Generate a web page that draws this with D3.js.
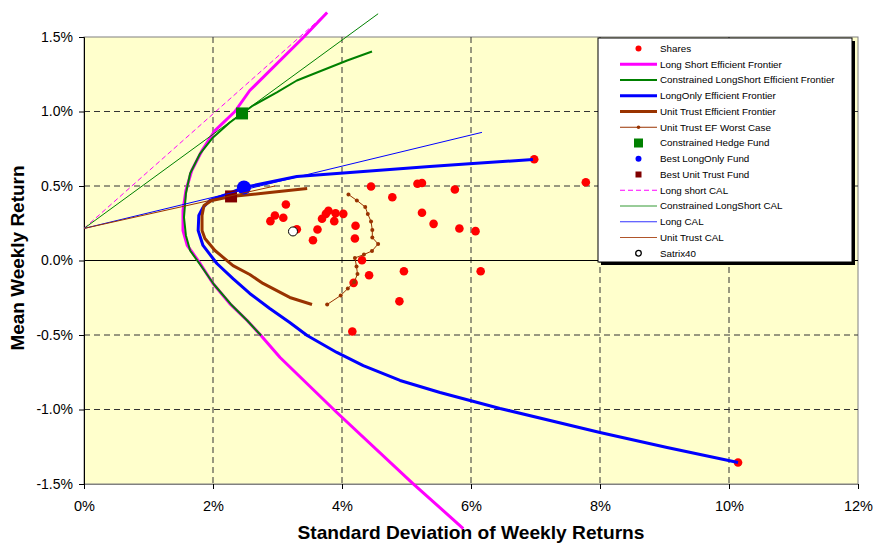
<!DOCTYPE html>
<html>
<head>
<meta charset="utf-8">
<script src="https://cdn.jsdelivr.net/npm/d3@7"></script>
<style>
  body { margin: 0; background: #fff; }
  svg text { font-family: "Liberation Sans", Arial, sans-serif; }
</style>
</head>
<body>
<div id="chart"></div>
<script>
// values in percent: [std dev, mean]
var shares = [
  [2.89, 0.264], [2.96, 0.302], [3.09, 0.287], [3.13, 0.376], [3.30, 0.21],
  [3.62, 0.208], [3.55, 0.136], [3.69, 0.28], [3.75, 0.313], [3.79, 0.334],
  [3.88, 0.264], [3.90, 0.317], [4.02, 0.313], [4.21, 0.233], [4.20, 0.148],
  [4.31, 0.002], [4.42, -0.099], [4.18, -0.150], [4.16, -0.477], [4.45, 0.497],
  [4.78, 0.425], [5.17, 0.515], [5.24, 0.52], [5.24, 0.32], [5.42, 0.246],
  [4.96, -0.072], [4.89, -0.274], [5.75, 0.477], [5.82, 0.215], [6.07, 0.197],
  [6.15, -0.072], [6.98, 0.68], [7.78, 0.525], [10.14, -1.356]
];

var longShortEF = [
  [3.77, 1.664], [3.40, 1.497], [2.57, 1.141], [2.34, 1.0], [2.03, 0.872],
  [1.83, 0.738], [1.67, 0.604], [1.58, 0.470], [1.535, 0.336], [1.535, 0.201],
  [1.60, 0.101], [1.69, 0.047], [1.80, -0.020], [2.0, -0.154], [2.26, -0.289],
  [2.53, -0.403], [2.73, -0.497], [3.04, -0.651], [3.92, -1.020], [5.10, -1.497],
  [5.88, -1.799]
];

var constrainedEF = [
  [4.465, 1.403], [4.08, 1.342], [3.30, 1.208], [2.99, 1.128], [2.62, 1.040],
  [2.45, 0.987], [2.26, 0.926], [2.0, 0.826], [1.80, 0.718], [1.645, 0.584],
  [1.58, 0.450], [1.55, 0.289], [1.58, 0.168], [1.645, 0.067], [1.80, -0.027],
  [2.015, -0.161], [2.28, -0.295], [2.53, -0.403], [2.745, -0.503]
];

var longOnlyEF = [
  [6.96, 0.678], [6.03, 0.651], [5.36, 0.631], [4.33, 0.597], [3.30, 0.564],
  [2.48, 0.490], [2.155, 0.436], [1.95, 0.403], [1.845, 0.356], [1.78, 0.302],
  [1.77, 0.201], [1.845, 0.101], [2.06, -0.020], [2.31, -0.121], [2.57, -0.221],
  [2.88, -0.322], [3.19, -0.416], [3.46, -0.503], [3.92, -0.617], [4.33, -0.705],
  [4.90, -0.805], [5.52, -0.886], [6.45, -0.993], [8.0, -1.154], [9.04, -1.255],
  [10.14, -1.356]
];

var unitTrustEF = [
  [3.46, 0.483], [2.88, 0.456], [2.28, 0.430], [1.98, 0.403], [1.86, 0.369],
  [1.83, 0.302], [1.83, 0.201], [1.875, 0.148], [2.03, 0.067], [2.31, -0.034],
  [2.57, -0.094], [2.775, -0.154], [3.19, -0.248], [3.535, -0.295]
];

var unitTrustWorst = [
  [4.10, 0.443], [4.23, 0.403], [4.36, 0.359], [4.40, 0.312], [4.45, 0.262],
  [4.47, 0.205], [4.47, 0.154], [4.56, 0.111], [4.465, 0.064], [4.34, 0.040],
  [4.20, 0.017], [4.225, -0.040], [4.24, -0.091], [4.19, -0.144], [4.09, -0.188],
  [3.98, -0.235], [3.77, -0.295]
];

var hedgeFund = [[2.45, 0.987]];
var bestLongOnly = [[2.48, 0.490]];
var bestUnitTrust = [[2.28, 0.430]];
var satrix40 = [[3.24, 0.195]];

var longShortCAL = [[0, 0.215], [3.77, 1.664]];
var constrainedCAL = [[0, 0.215], [4.56, 1.656]];
var longCAL = [[0, 0.215], [6.17, 0.86]];
var unitTrustCAL = [[0, 0.215], [2.96, 0.50]];

var xTicks = [0, 2, 4, 6, 8, 10, 12];
var yTicks = [-1.5, -1.0, -0.5, 0.0, 0.5, 1.0, 1.5];

var legendItems = [
  { name: "Shares", type: "dot", color: "#ff0000" },
  { name: "Long Short Efficient Frontier", type: "line", color: "#ff00ff", w: 3 },
  { name: "Constrained LongShort Efficient Frontier", type: "line", color: "#008000", w: 2 },
  { name: "LongOnly Efficient Frontier", type: "line", color: "#0000ff", w: 3 },
  { name: "Unit Trust Efficient Frontier", type: "line", color: "#993300", w: 3 },
  { name: "Unit Trust EF Worst Case", type: "lineDot", color: "#993300", w: 1 },
  { name: "Constrained Hedge Fund", type: "square", color: "#008000", size: 9 },
  { name: "Best LongOnly Fund", type: "dot", color: "#0000ff" },
  { name: "Best Unit Trust Fund", type: "square", color: "#800000", size: 6 },
  { name: "Long short CAL", type: "dash", color: "#ff00ff", w: 1 },
  { name: "Constrained LongShort CAL", type: "line", color: "#339933", w: 1 },
  { name: "Long CAL", type: "line", color: "#3333ff", w: 1 },
  { name: "Unit Trust CAL", type: "line", color: "#b0552a", w: 1 },
  { name: "Satrix40", type: "hollow", color: "#000" }
];

var W = 875, H = 545;
var svg = d3.select("#chart").append("svg")
    .attr("width", W)
    .attr("height", H);

var x = d3.scaleLinear().domain([0, 12]).range([84, 858]);
var y = d3.scaleLinear().domain([-1.5, 1.5]).range([484, 37]);

// plot area
svg.append("rect")
    .attr("x", x(0)).attr("y", y(1.5))
    .attr("width", x(12) - x(0)).attr("height", y(-1.5) - y(1.5))
    .attr("fill", "#ffffcc")
    .attr("stroke", "#808080");

// gridlines
svg.append("g")
    .selectAll("line")
    .data(xTicks.filter(d => d > 0 && d < 12))
    .join("line")
    .attr("x1", d => x(d)).attr("x2", d => x(d))
    .attr("y1", y(1.5)).attr("y2", y(-1.5))
    .attr("stroke", "#333").attr("stroke-dasharray", "6,4");
svg.append("g")
    .selectAll("line")
    .data(yTicks.filter(d => d !== 0 && Math.abs(d) < 1.5))
    .join("line")
    .attr("x1", x(0)).attr("x2", x(12))
    .attr("y1", d => y(d)).attr("y2", d => y(d))
    .attr("stroke", "#333").attr("stroke-dasharray", "6,4");

// zero line
svg.append("line")
    .attr("x1", x(0)).attr("x2", x(12))
    .attr("y1", y(0)).attr("y2", y(0))
    .attr("stroke", "#000");

// Y axis
var yAxis = svg.append("g")
    .attr("transform", "translate(" + x(0) + ",0)")
    .call(d3.axisLeft(y).tickValues(yTicks).tickSize(5).tickPadding(6)
        .tickFormat(d => d.toFixed(1) + "%"));
yAxis.select(".domain").attr("stroke", "#000");
yAxis.selectAll("text").style("font-size", "14px").attr("fill", "#000");

// X axis (labels at bottom)
var xAxis = svg.append("g")
    .attr("transform", "translate(0," + y(-1.5) + ")")
    .call(d3.axisBottom(x).tickValues(xTicks).tickSize(5).tickPadding(12)
        .tickFormat(d => d + "%"));
xAxis.select(".domain").attr("stroke", "#808080");
xAxis.selectAll("text").style("font-size", "14.5px").attr("fill", "#000");

// axis titles
svg.append("text")
    .attr("x", 471).attr("y", 539)
    .attr("text-anchor", "middle")
    .attr("textLength", 347).attr("lengthAdjust", "spacingAndGlyphs")
    .style("font-size", "19px").style("font-weight", "bold")
    .text("Standard Deviation of Weekly Returns");
svg.append("text")
    .attr("transform", "translate(24,258) rotate(-90)")
    .attr("text-anchor", "middle")
    .attr("textLength", 185).attr("lengthAdjust", "spacingAndGlyphs")
    .style("font-size", "18px").style("font-weight", "bold")
    .text("Mean Weekly Return");

var line = d3.line().x(d => x(d[0])).y(d => y(d[1]));

// Shares
svg.append("g")
    .selectAll("circle")
    .data(shares)
    .join("circle")
    .attr("cx", d => x(d[0])).attr("cy", d => y(d[1]))
    .attr("r", 4.3)
    .attr("fill", "#ff0000");

function drawLine(data, color, w, dash) {
    svg.append("path")
        .datum(data)
        .attr("d", line)
        .attr("fill", "none")
        .attr("stroke", color)
        .attr("stroke-width", w)
        .attr("stroke-linejoin", "round")
        .attr("stroke-dasharray", dash || null);
}

drawLine(longShortEF, "#ff00ff", 3);
drawLine(constrainedEF, "#008000", 2);
drawLine(longOnlyEF, "#0000ff", 3);
drawLine(unitTrustEF, "#993300", 3);
drawLine(unitTrustWorst, "#993300", 1);
svg.append("g")
    .selectAll("circle")
    .data(unitTrustWorst)
    .join("circle")
    .attr("cx", d => x(d[0])).attr("cy", d => y(d[1]))
    .attr("r", 2)
    .attr("fill", "#993300");

// funds
svg.selectAll("rect.hf")
    .data(hedgeFund)
    .join("rect")
    .attr("class", "hf")
    .attr("x", d => x(d[0]) - 6).attr("y", d => y(d[1]) - 6)
    .attr("width", 12).attr("height", 12)
    .attr("fill", "#008000");
svg.selectAll("circle.blo")
    .data(bestLongOnly)
    .join("circle")
    .attr("class", "blo")
    .attr("cx", d => x(d[0])).attr("cy", d => y(d[1]))
    .attr("r", 7)
    .attr("fill", "#0000ff");
svg.selectAll("rect.but")
    .data(bestUnitTrust)
    .join("rect")
    .attr("class", "but")
    .attr("x", d => x(d[0]) - 6).attr("y", d => y(d[1]) - 6)
    .attr("width", 12).attr("height", 12)
    .attr("fill", "#800000");

// CALs
drawLine(longShortCAL, "#ff00ff", 1, "5,3");
drawLine(constrainedCAL, "#008000", 1);
drawLine(longCAL, "#0000ff", 1);
drawLine(unitTrustCAL, "#993300", 1);

// Satrix40
svg.selectAll("circle.sx")
    .data(satrix40)
    .join("circle")
    .attr("class", "sx")
    .attr("cx", d => x(d[0])).attr("cy", d => y(d[1]))
    .attr("r", 4.5)
    .attr("fill", "#fff")
    .attr("stroke", "#000");

// Legend
var lg = svg.append("g");
lg.append("rect")
    .attr("x", 601).attr("y", 41)
    .attr("width", 254).attr("height", 224)
    .attr("fill", "#000");
lg.append("rect")
    .attr("x", 598).attr("y", 38)
    .attr("width", 254).attr("height", 224)
    .attr("fill", "#fff")
    .attr("stroke", "#000");

var rows = lg.selectAll("g.row")
    .data(legendItems)
    .join("g")
    .attr("class", "row")
    .attr("transform", (d, i) => "translate(0," + (48.5 + i * 15.75) + ")");

rows.filter(d => d.type === "line" || d.type === "lineDot" || d.type === "dash")
    .append("line")
    .attr("x1", 620).attr("x2", 657)
    .attr("stroke", d => d.color)
    .attr("stroke-width", d => d.w)
    .attr("stroke-dasharray", d => d.type === "dash" ? "5,3" : null);
rows.filter(d => d.type === "lineDot")
    .append("circle").attr("cx", 638.5).attr("r", 1.8).attr("fill", d => d.color);
rows.filter(d => d.type === "dot")
    .append("circle").attr("cx", 638.5).attr("r", 3).attr("fill", d => d.color);
rows.filter(d => d.type === "square")
    .append("rect")
    .attr("x", d => 638.5 - d.size / 2).attr("y", d => -d.size / 2)
    .attr("width", d => d.size).attr("height", d => d.size)
    .attr("fill", d => d.color);
rows.filter(d => d.type === "hollow")
    .append("circle").attr("cx", 638.5).attr("r", 2.8)
    .attr("fill", "#fff").attr("stroke", "#000").attr("stroke-width", 1.3);
rows.append("text")
    .attr("x", 660).attr("dy", "0.35em")
    .style("font-size", "9.8px")
    .text(d => d.name);
</script>
</body>
</html>
